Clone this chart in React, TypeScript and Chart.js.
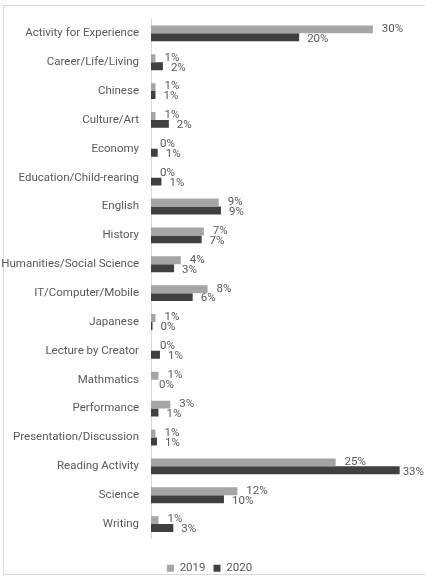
import React, { useEffect, useRef } from "react";
import { Chart, registerables } from "chart.js";

Chart.register(...registerables);

const categories = [
  "Activity for Experience",
  "Career/Life/Living",
  "Chinese",
  "Culture/Art",
  "Economy",
  "Education/Child-rearing",
  "English",
  "History",
  "Humanities/Social Science",
  "IT/Computer/Mobile",
  "Japanese",
  "Lecture by Creator",
  "Mathmatics",
  "Performance",
  "Presentation/Discussion",
  "Reading Activity",
  "Science",
  "Writing",
];

const seriesNames = ["2019", "2020"];
const values2019 = [29.8, 0.6, 0.6, 0.6, 0, 0, 9.1, 7.1, 4.0, 7.6, 0.6, 0, 1.0, 2.6, 0.6, 24.8, 11.6, 1.0];
const values2020 = [19.9, 1.6, 0.6, 2.4, 0.9, 1.4, 9.4, 6.8, 3.1, 5.6, 0.2, 1.2, 0, 1.0, 0.8, 33.4, 9.8, 3.0];

const FONT = "Roboto, 'Liberation Sans', sans-serif";

export default function App() {
  const ref = useRef<HTMLCanvasElement>(null);

  useEffect(() => {
    const canvas = ref.current;
    if (!canvas) return;

    const labelPlugin = {
      id: "barLabels",
      afterDatasetsDraw(chart: any) {
        const ctx = chart.ctx;
        ctx.save();
        ctx.font = `11.5px ${FONT}`;
        ctx.fillStyle = "#595959";
        ctx.textBaseline = "middle";
        ctx.textAlign = "left";
        chart.data.datasets.forEach((ds: any, di: number) => {
          const meta = chart.getDatasetMeta(di);
          meta.data.forEach((el: any, i: number) => {
            const v = ds.data[i] as number;
            const txt = Math.round(v) + "%";
            const w = ctx.measureText(txt).width;
            let x = el.x + (di === 0 ? 9 : 8);
            if (x + w > chart.width - 1) x = chart.width - 1 - w;
            const y = el.y + (di === 0 ? -0.5 : 1.5);
            ctx.fillText(txt, x, y);
          });
        });
        ctx.restore();
      },
    };

    const chart = new Chart(canvas, {
      type: "bar",
      data: {
        labels: categories,
        datasets: [
          {
            label: seriesNames[0],
            data: values2019,
            backgroundColor: "#a5a5a5",
            categoryPercentage: 0.55,
            barPercentage: 1.0,
          },
          {
            label: seriesNames[1],
            data: values2020,
            backgroundColor: "#404040",
            categoryPercentage: 0.55,
            barPercentage: 1.0,
          },
        ],
      },
      options: {
        indexAxis: "y",
        responsive: false,
        animation: false,
        devicePixelRatio: 1,
        layout: { padding: { top: 12, right: 6, bottom: 0, left: 0 } },
        scales: {
          x: {
            type: "linear",
            min: 0,
            max: 36,
            display: true,
            ticks: { display: false },
            grid: { display: false },
            border: { display: false },
            afterFit: (scale: any) => {
              scale.height = 16;
            },
          },
          y: {
            type: "category",
            grid: {
              display: true,
              drawOnChartArea: false,
              drawTicks: false,
              color: "transparent",
            },
            border: { display: true, color: "#d9d9d9", width: 1 },
            ticks: {
              padding: 12,
              color: "#595959",
              font: { family: FONT, size: 11.5 },
              autoSkip: false,
            },
            afterFit: (scale: any) => {
              scale.width = 151;
            },
          },
        },
        plugins: {
          legend: {
            display: true,
            position: "bottom",
            labels: {
              boxWidth: 7,
              boxHeight: 7,
              padding: 8,
              color: "#595959",
              font: { family: FONT, size: 11.5 },
            },
          },
          tooltip: { enabled: false },
        },
      },
      plugins: [labelPlugin],
    });

    return () => chart.destroy();
  }, []);

  return (
    <div
      style={{
        position: "fixed",
        left: 0,
        top: 0,
        width: 425,
        height: 578,
        overflow: "hidden",
        background: "#ffffff",
      }}
    >
      <div
        style={{
          position: "absolute",
          left: 3,
          top: 5,
          width: 440,
          height: 568,
          border: "1px solid #d9d9d9",
          boxSizing: "content-box",
        }}
      />
      <canvas
        ref={ref}
        width={425}
        height={584}
        style={{ position: "absolute", left: 0, top: 0, width: 425, height: 584 }}
      />
    </div>
  );
}
